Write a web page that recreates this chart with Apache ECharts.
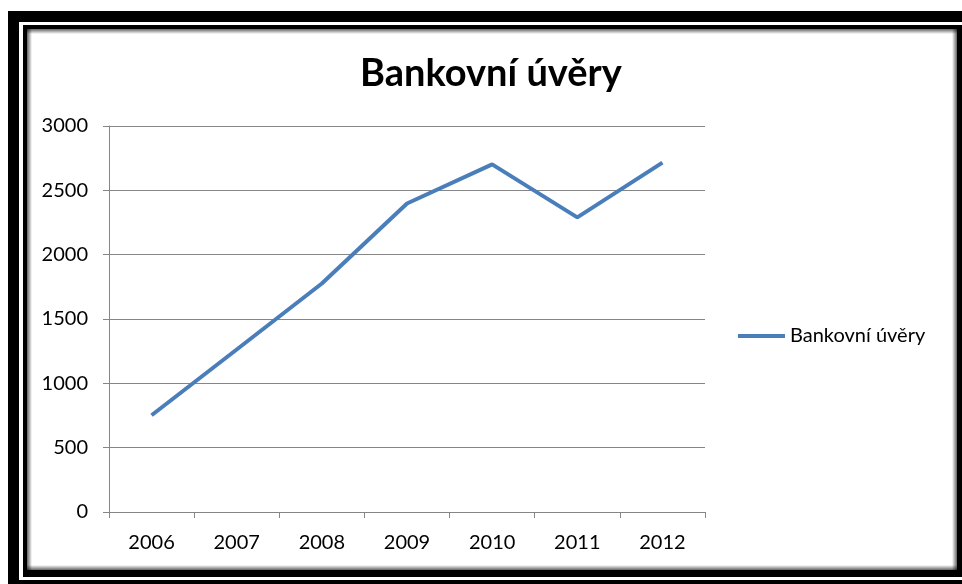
<!DOCTYPE html>
<html>
<head>
<meta charset="utf-8">
<style>
html,body{margin:0;padding:0;background:#fff;}
#chart{width:962px;height:584px;}
</style>
<script src="https://cdn.jsdelivr.net/npm/echarts@6/dist/echarts.min.js"></script>
</head>
<body>
<div id="chart"></div>
<script>
var titleText = 'Bankovní úvěry';
var seriesName = 'Bankovní úvěry';
var categories = ['2006', '2007', '2008', '2009', '2010', '2011', '2012'];
var values = [752, 1263, 1776, 2398, 2702, 2290, 2715];
var yTicks = [0, 500, 1000, 1500, 2000, 2500, 3000];

var chart = echarts.init(document.getElementById('chart'), null, {renderer: 'canvas'});
var FONT = 'Lato, Carlito, "Open Sans", sans-serif';
var gray = '#868686';

function shadowStrip(x, y, w, h, dir) {
  var g = {x: 0, y: 0, x2: 0, y2: 0};
  if (dir === 'l') { g = {x:0,y:0,x2:1,y2:0}; }
  if (dir === 'r') { g = {x:1,y:0,x2:0,y2:0}; }
  if (dir === 't') { g = {x:0,y:0,x2:0,y2:1}; }
  if (dir === 'b') { g = {x:0,y:1,x2:0,y2:0}; }
  return {
    type: 'rect', silent: true, z: -5,
    shape: {x: x, y: y, width: w, height: h},
    style: {fill: new echarts.graphic.LinearGradient(g.x, g.y, g.x2, g.y2, [
      {offset: 0, color: 'rgba(0,0,0,0.6)'},
      {offset: 1, color: 'rgba(0,0,0,0)'}
    ])}
  };
}

var option = {
  animation: false,
  backgroundColor: '#fff',
  title: {
    text: titleText,
    left: 360,
    top: 55,
    padding: 0,
    textStyle: {fontFamily: FONT, fontWeight: 'bold', fontSize: 38, color: '#000'}
  },
  legend: {
    data: [{name: seriesName, icon: 'rect'}],
    left: 738,
    top: 326,
    padding: 0,
    itemWidth: 47,
    itemHeight: 4,
    itemGap: 5,
    textStyle: {fontFamily: FONT, fontSize: 20, color: '#000'}
  },
  grid: {left: 109, right: 257, top: 126, bottom: 72, containLabel: false},
  xAxis: {
    type: 'category',
    data: categories,
    boundaryGap: true,
    axisLine: {lineStyle: {color: gray, width: 1}},
    axisTick: {show: true, length: 6, lineStyle: {color: gray}},
    axisLabel: {fontFamily: FONT, fontSize: 20, color: '#000', margin: 21}
  },
  yAxis: {
    type: 'value',
    min: yTicks[0],
    max: yTicks[yTicks.length - 1],
    interval: yTicks[1] - yTicks[0],
    axisLine: {show: true, lineStyle: {color: gray, width: 1}},
    axisTick: {show: true, length: 6, lineStyle: {color: gray}},
    axisLabel: {fontFamily: FONT, fontSize: 20, color: '#000', margin: 21,
      formatter: function (v) { return String(v); }},
    splitLine: {show: true, lineStyle: {color: gray, width: 1}}
  },
  series: [{
    name: seriesName,
    type: 'line',
    data: values,
    symbol: 'none',
    lineStyle: {color: '#4A7EBB', width: 4},
    itemStyle: {color: '#4A7EBB'}
  }],
  graphic: [
    {type: 'rect', silent: true, z: -10, shape: {x: 8, y: 11, width: 954, height: 573}, style: {fill: '#000'}},
    {type: 'rect', silent: true, z: -9, shape: {x: 19, y: 22, width: 943, height: 558}, style: {fill: '#fff'}},
    {type: 'rect', silent: true, z: -8, shape: {x: 23, y: 25, width: 939, height: 552}, style: {fill: '#000'}},
    {type: 'rect', silent: true, z: -7, shape: {x: 27, y: 29, width: 930, height: 541}, style: {fill: '#fff'}},
    shadowStrip(27, 29, 5, 541, 'l'),
    shadowStrip(27, 29, 930, 5, 't'),
    shadowStrip(952, 29, 5, 541, 'r'),
    shadowStrip(27, 565, 930, 5, 'b')
  ]
};
chart.setOption(option);
</script>
</body>
</html>
